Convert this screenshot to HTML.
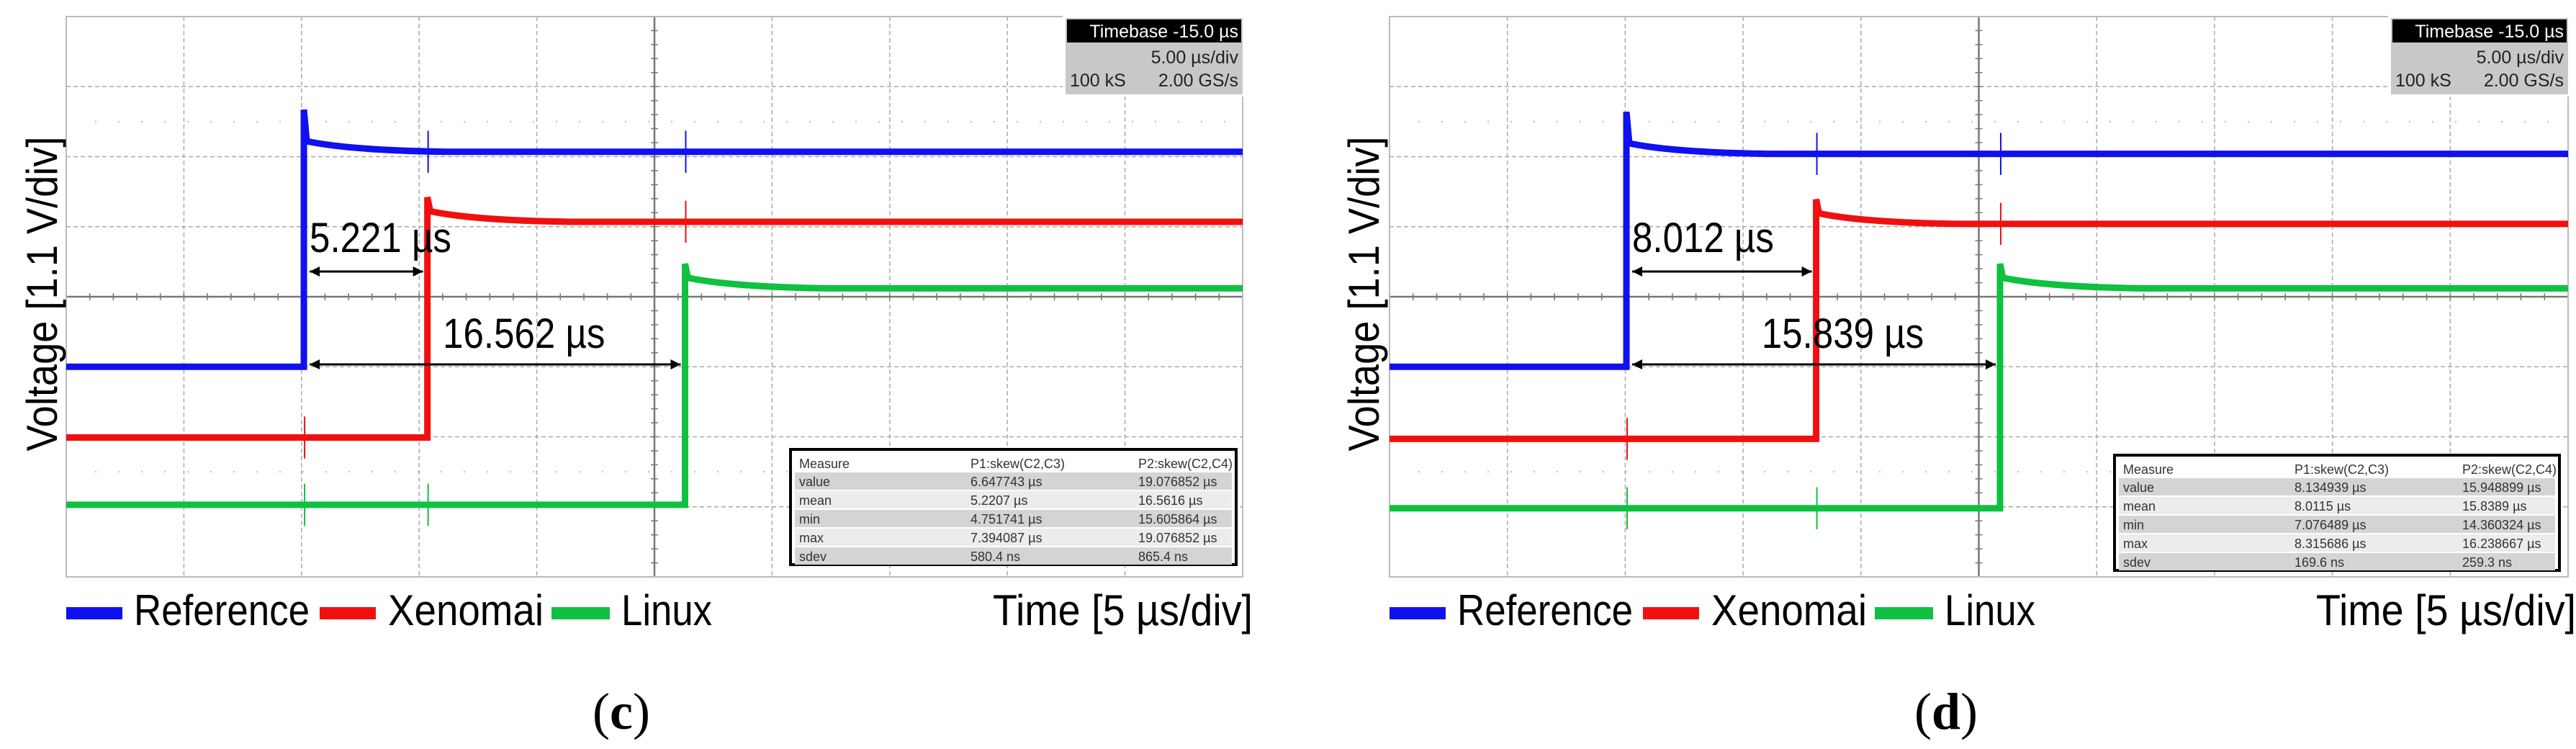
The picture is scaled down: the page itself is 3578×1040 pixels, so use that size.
<!DOCTYPE html>
<html><head><meta charset="utf-8"><style>
html,body{margin:0;padding:0;background:#fff}
svg{display:block}
text{font-family:"Liberation Sans",sans-serif}
</style></head><body>
<svg id="fig" width="3578" height="1040" viewBox="0 0 3578 1040" xmlns="http://www.w3.org/2000/svg"></svg>
<script>
// ---- data (time in µs, level in divisions from bottom) ----
const panelNames = ["c", "d"];
const seriesNames = ["Reference", "Xenomai", "Linux"];
const seriesColors = ["#1010f0", "#f01010", "#10c040"];
const edgeTimesC = [10.1, 15.35, 26.3];
const edgeTimesD = [10.05, 18.1, 25.9];
const highLevelsC = [6.07, 5.07, 4.12];
const highLevelsD = [6.04, 5.04, 4.12];
const lowLevelsC = [3.0, 1.99, 1.03];
const lowLevelsD = [3.0, 1.97, 0.98];
const skewLabelsC = ["5.221 µs", "16.562 µs"];
const skewLabelsD = ["8.012 µs", "15.839 µs"];
const measHeader = ["Measure", "P1:skew(C2,C3)", "P2:skew(C2,C4)"];
const measRowNames = ["value", "mean", "min", "max", "sdev"];
const measP1C = ["6.647743 µs", "5.2207 µs", "4.751741 µs", "7.394087 µs", "580.4 ns"];
const measP2C = ["19.076852 µs", "16.5616 µs", "15.605864 µs", "19.076852 µs", "865.4 ns"];
const measP1D = ["8.134939 µs", "8.0115 µs", "7.076489 µs", "8.315686 µs", "169.6 ns"];
const measP2D = ["15.948899 µs", "15.8389 µs", "14.360324 µs", "16.238667 µs", "259.3 ns"];

const NS = "http://www.w3.org/2000/svg";
const svg = document.getElementById("fig");
function mk(tag, attrs, parent, txt) {
  const e = document.createElementNS(NS, tag);
  for (const k in attrs) e.setAttribute(k, attrs[k]);
  if (txt !== undefined) e.textContent = txt;
  (parent || svg).appendChild(e);
  return e;
}

const panels = [
  {x0: 92, x1: 1726, edges: edgeTimesC, hi: highLevelsC, lo: lowLevelsC, skew: skewLabelsC, p1: measP1C, p2: measP2C, ylab: 57, cap: 863},
  {x0: 1930, x1: 3567, edges: edgeTimesD, hi: highLevelsD, lo: lowLevelsD, skew: skewLabelsD, p1: measP1D, p2: measP2D, ylab: 1893, cap: 2703}
];
const Y0 = 23, Y1 = 801;

panels.forEach((P, pi) => {
  const g = mk("g", {});
  
  
  const W = P.x1 - P.x0, H = Y1 - Y0;
  const xs = t => P.x0 + t / 50 * W;
  const ys = v => Y1 - v / 8 * H;

  // grid
  for (let i = 1; i < 10; i++) {
    const x = xs(i * 5);
    const l = mk("line", {x1: x, x2: x, y1: Y0, y2: Y1, stroke: i === 5 ? "#777" : "#aaa", "stroke-width": i === 5 ? 2.5 : 1.5, "stroke-dasharray": i === 5 ? "" : "6 4"}, g);
    
    
  }
  for (let j = 1; j < 8; j++) {
    const y = ys(j);
    const l = mk("line", {x1: P.x0, x2: P.x1, y1: y, y2: y, stroke: j === 4 ? "#777" : "#aaa", "stroke-width": j === 4 ? 2.5 : 1.5, "stroke-dasharray": j === 4 ? "" : "6 4"}, g);
    
    
  }
  // center-axis ticks
  for (let k = 1; k < 50; k++) {
    const x = xs(k);
    mk("line", {x1: x, x2: x, y1: ys(4) - 5, y2: ys(4) + 5, stroke: "#777", "stroke-width": 1.5}, g);
  }
  for (let k = 1; k < 40; k++) {
    const y = ys(k / 5);
    mk("line", {x1: xs(25) - 5, x2: xs(25) + 5, y1: y, y2: y, stroke: "#777", "stroke-width": 1.5}, g);
  }
  // dotted sub rows
  [1.5, 6.5].forEach(v => {
    mk("line", {x1: P.x0 + 40, x2: P.x1, y1: ys(v), y2: ys(v), stroke: "#bbb", "stroke-width": 2, "stroke-dasharray": "2 30"}, g);
  });
  const frame = mk("rect", {x: P.x0, y: Y0, width: W, height: H, fill: "none", stroke: "#bbb", "stroke-width": 2}, g);
  
  

  // traces
  seriesNames.forEach((nm, si) => {
    const te = P.edges[si], hi = P.hi[si], lo = P.lo[si], c = seriesColors[si];
    const ov = si === 0 ? 0.6 : 0.35;
    const d = `M${xs(0)},${ys(lo)} L${xs(te)},${ys(lo)} L${xs(te)},${ys(hi + ov)} L${xs(te) + 4},${ys(hi + 0.15)} Q${xs(te + 2)},${ys(hi + 0.02)} ${xs(te + 6)},${ys(hi)} L${xs(50)},${ys(hi)}`;
    const p = mk("path", {d: d, fill: "none", stroke: c, "stroke-width": 9, "stroke-linejoin": "miter"}, g);
    
    
    const e = mk("line", {x1: xs(te), x2: xs(te), y1: ys(lo), y2: ys(hi + ov), stroke: c, "stroke-width": 2}, g);
    // crosstalk spikes at other edges
    P.edges.forEach((t2, k) => {
      if (k === si) return;
      const lvl = t2 < te ? lo : hi;
      const s = mk("line", {x1: xs(t2) + 1, x2: xs(t2) + 1, y1: ys(lvl + 0.3), y2: ys(lvl - 0.3), stroke: c, "stroke-width": 2}, g);
      
      
    });
  });

  // annotations
  const refT = P.edges[0];
  [[1, 377, 350], [2, 506, 483]].forEach(([k, ay, ty], ai) => {
    const xa = xs(refT) + 8, xb = xs(P.edges[k]) - 6;
    const a = mk("line", {x1: xa, x2: xb, y1: ay, y2: ay, stroke: "#000", "stroke-width": 3}, g);
    
    
    mk("path", {d: `M${xa},${ay} l14,-7 l0,14 z M${xb},${ay} l-14,-7 l0,14 z`, fill: "#000"}, g);
    const tx = ai === 0 ? xa : (xa + xb) / 2 + 40;
    const t = mk("text", {x: tx, y: ty, "font-size": 58, "text-anchor": ai === 0 ? "start" : "middle", transform: `translate(${tx},0) scale(0.88,1) translate(${-tx},0)`}, g, P.skew[ai]);
    
    
  });

  // timebase box
  const tbx = P.x1 - 246;
  const tb = mk("g", {}, g);
  
  
  mk("rect", {x: tbx - 4, y: 22, width: 252, height: 112, fill: "#fff"}, tb);
  mk("rect", {x: tbx, y: 25, width: 246, height: 106, fill: "#c8c8c8"}, tb);
  mk("rect", {x: tbx + 2, y: 27, width: 242, height: 32, fill: "#000"}, tb);
  mk("text", {x: tbx + 240, y: 52, "font-size": 25, fill: "#fff", "text-anchor": "end"}, tb, "Timebase  -15.0 µs");
  mk("text", {x: tbx + 240, y: 88, "font-size": 25, fill: "#222", "text-anchor": "end"}, tb, "5.00 µs/div");
  mk("text", {x: tbx + 6, y: 120, "font-size": 25, fill: "#222"}, tb, "100 kS");
  mk("text", {x: tbx + 240, y: 120, "font-size": 25, fill: "#222", "text-anchor": "end"}, tb, "2.00 GS/s");

  // measurement table
  const mx0 = pi === 0 ? 1098 : 2937, mx1 = pi === 0 ? 1717 : 3555, my0 = pi === 0 ? 624 : 632;
  const mt = mk("g", {}, g);
  
  
  mk("rect", {x: mx0, y: my0, width: mx1 - mx0, height: 160, fill: "#fff", stroke: "#000", "stroke-width": 4}, mt);
  const rh = 26;
  const colX = [mx0 + 12, mx0 + 250, mx0 + 483];
  measHeader.forEach((h, c) => mk("text", {x: colX[c], y: my0 + 26, "font-size": 18, fill: "#333"}, mt, h));
  measRowNames.forEach((r, ri) => {
    const ry = my0 + 32 + ri * rh;
    mk("rect", {x: mx0 + 6, y: ry, width: mx1 - mx0 - 12, height: rh - 2, fill: ri % 2 === 0 ? "#d4d4d4" : "#ececec"}, mt);
    mk("text", {x: colX[0], y: ry + 19, "font-size": 18, fill: "#333"}, mt, r);
    mk("text", {x: colX[1], y: ry + 19, "font-size": 18, fill: "#333"}, mt, P.p1[ri]);
    mk("text", {x: colX[2], y: ry + 19, "font-size": 18, fill: "#333"}, mt, P.p2[ri]);
  });

  // y label
  const yl = mk("text", {x: 0, y: 0, "font-size": 60, "text-anchor": "middle", transform: `translate(${P.ylab + 22},408) rotate(-90)`, textLength: 437, lengthAdjust: "spacingAndGlyphs"}, g, "Voltage [1.1 V/div]");
  
  

  // legend
  const off = P.x0 - 92;
  const legX = [[92, 170, 186, 244], [444, 522, 539, 216], [766, 847, 863, 126]];
  seriesNames.forEach((nm, si) => {
    const [s0, s1, tx, tl] = legX[si];
    const le = mk("g", {}, g);
    
    
    mk("rect", {x: s0 + off, y: 843, width: s1 - s0, height: 17, fill: seriesColors[si]}, le);
    mk("text", {x: tx + off, y: 868, "font-size": 60, textLength: tl, lengthAdjust: "spacingAndGlyphs"}, le, nm);
  });
  const xl = mk("text", {x: 1379 + off, y: 868, "font-size": 60, textLength: 361, lengthAdjust: "spacingAndGlyphs"}, g, "Time [5 µs/div]");
  
  

  // caption
  const cap = mk("text", {x: P.cap, y: 1012, "font-size": 72, "text-anchor": "middle", style: "font-family:'Liberation Serif',serif"}, g);
  
  
  mk("tspan", {}, cap, "(");
  mk("tspan", {"font-weight": "bold"}, cap, panelNames[pi]);
  mk("tspan", {}, cap, ")");
});
</script>
</body></html>
